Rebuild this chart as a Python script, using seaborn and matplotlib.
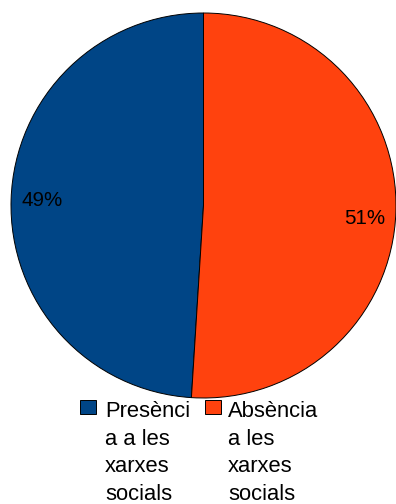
import textwrap
import matplotlib
matplotlib.use("Agg")
import matplotlib.pyplot as plt
from matplotlib.patches import Rectangle
import seaborn as sns

# Data
categories = ["Presència a les xarxes socials", "Absència a les xarxes socials"]
shares = [49, 51]
colors = ["#004586", "#ff420e"]

sns.set_theme(style="white")
plt.rcParams["font.family"] = ["Liberation Sans", "DejaVu Sans"]

W, H, DPI = 396, 504, 100
fig = plt.figure(figsize=(W / DPI, H / DPI), dpi=DPI)
fig.patch.set_facecolor("white")

# Pie occupies a square region in the upper part of the figure
cx, cy, r = 203.5, 205.5, 192.5
ax = fig.add_axes([(cx - r) / W, 1 - (cy + r) / H, 2 * r / W, 2 * r / H])
wedges, texts, autotexts = ax.pie(
    shares,
    colors=colors,
    startangle=90,
    counterclock=True,
    autopct=lambda p: f"{p:.0f}%",
    pctdistance=0.84,
    wedgeprops=dict(edgecolor="black", linewidth=0.7),
    textprops=dict(color="black", fontsize=14.8),
)
# nudge the right-hand label a little lower
x, y = autotexts[1].get_position()
autotexts[1].set_position((x, y - 0.04))
ax.set_xlim(-1.0, 1.0)
ax.set_ylim(-1.0, 1.0)
ax.set_aspect("equal")
ax.axis("off")

# Legend drawn below the pie with wrapped labels
box_x = [80, 205]
text_x = [105, 228]
box_top, box_w, box_h = 400, 16, 14
first_baseline, line_step = 417, 27.7
for i, (label, color) in enumerate(zip(categories, colors)):
    fig.patches.append(
        Rectangle(
            (box_x[i] / W, 1 - (box_top + box_h) / H),
            box_w / W,
            box_h / H,
            transform=fig.transFigure,
            facecolor=color,
            edgecolor="black",
            linewidth=0.7,
        )
    )
    for j, line in enumerate(textwrap.wrap(label, 8)):
        fig.text(
            text_x[i] / W,
            1 - (first_baseline + j * line_step) / H,
            line,
            ha="left",
            va="baseline",
            fontsize=15.8,
            color="black",
        )

fig.savefig("out.png", dpi=DPI, facecolor="white")
